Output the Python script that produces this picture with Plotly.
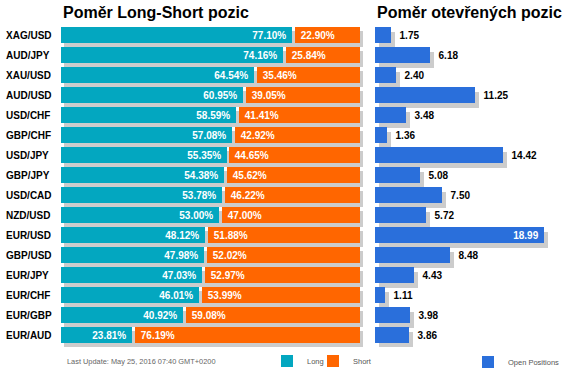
import plotly.graph_objects as go

pairs = ["XAG/USD", "AUD/JPY", "XAU/USD", "AUD/USD", "USD/CHF", "GBP/CHF", "USD/JPY", "GBP/JPY",
         "USD/CAD", "NZD/USD", "EUR/USD", "GBP/USD", "EUR/JPY", "EUR/CHF", "EUR/GBP", "EUR/AUD"]
long_pct = [77.10, 74.16, 64.54, 60.95, 58.59, 57.08, 55.35, 54.38, 53.78, 53.00, 48.12, 47.98, 47.03, 46.01, 40.92, 23.81]
short_pct = [22.90, 25.84, 35.46, 39.05, 41.41, 42.92, 44.65, 45.62, 46.22, 47.00, 51.88, 52.02, 52.97, 53.99, 59.08, 76.19]
open_pos = [1.75, 6.18, 2.40, 11.25, 3.48, 1.36, 14.42, 5.08, 7.50, 5.72, 18.99, 8.48, 4.43, 1.11, 3.98, 3.86]

title_left = "Poměr Long-Short pozic"
title_right = "Poměr otevřených pozic"
update_text = "Last Update: May 25, 2016 07:40 GMT+0200"

W, H = 565, 373
TEAL, ORANGE, BLUE, SHADOW = "#03A7C0", "#FF6600", "#2A6FDB", "#CCCCCC"
FONT = "Liberation Sans, Arial, sans-serif"

idx = list(range(len(pairs)))
BW = 0.77          # bar thickness in row units (20 px per row)
OFF = -BW / 2
GAP = 1.0          # gap between long and short (units of %)
L_SHX, L_SHY = 1.0, 0.2      # left shadow shift
R_SHX, R_SHY = 0.45, 0.25    # right shadow shift

fig = go.Figure()

# left shadows
fig.add_trace(go.Bar(
    y=idx, x=[l + s for l, s in zip(long_pct, short_pct)], base=L_SHX, orientation="h",
    width=BW, offset=OFF + L_SHY, marker=dict(color=SHADOW, line=dict(width=0)),
    showlegend=False, hoverinfo="skip", xaxis="x", yaxis="y"))
# long
fig.add_trace(go.Bar(
    y=idx, x=long_pct, base=0, orientation="h", name="Long",
    width=BW, offset=OFF, marker=dict(color=TEAL, line=dict(width=0)),
    texttemplate="%{x:.2f}%\u00a0", textposition="inside", insidetextanchor="end",
    constraintext="none", insidetextfont=dict(family=FONT, size=10, color="white", weight="bold"),
    legend="legend", xaxis="x", yaxis="y", hoverinfo="skip"))
# short
fig.add_trace(go.Bar(
    y=idx, x=[s - GAP for s in short_pct], base=[l + GAP for l in long_pct], orientation="h", name="Short",
    width=BW, offset=OFF, marker=dict(color=ORANGE, line=dict(width=0)),
    customdata=short_pct,
    texttemplate="\u00a0%{customdata:.2f}%", textposition="inside", insidetextanchor="start",
    constraintext="none", insidetextfont=dict(family=FONT, size=10, color="white", weight="bold"),
    legend="legend3", xaxis="x", yaxis="y", hoverinfo="skip"))

# right shadows
fig.add_trace(go.Bar(
    y=idx, x=open_pos, base=R_SHX, orientation="h",
    width=BW, offset=OFF + R_SHY, marker=dict(color=SHADOW, line=dict(width=0)),
    showlegend=False, hoverinfo="skip", xaxis="x2", yaxis="y"))
vmax = max(open_pos)
fig.add_trace(go.Bar(
    y=idx, x=open_pos, base=0, orientation="h", name="Open Positions",
    width=BW, offset=OFF, marker=dict(color=BLUE, line=dict(width=0)),
    texttemplate=["%{x:.2f}\u00a0" if v == vmax else "\u00a0\u00a0%{x:.2f}" for v in open_pos],
    textposition=["inside" if v == vmax else "outside" for v in open_pos],
    insidetextanchor="end", constraintext="none", cliponaxis=False,
    insidetextfont=dict(family=FONT, size=10, color="white", weight="bold"),
    outsidetextfont=dict(family=FONT, size=10, color="black", weight="bold"),
    legend="legend2", xaxis="x2", yaxis="y", hoverinfo="skip"))

annotations = []
for i, p in enumerate(pairs):
    annotations.append(dict(
        x=4 / W, xref="paper", xanchor="left", y=i, yref="y", yanchor="middle",
        text=p, showarrow=False, font=dict(family=FONT, size=10, color="black", weight="bold")))
annotations.append(dict(
    x=61 / W, xref="paper", xanchor="left", y=1 - 12.5 / H, yref="paper", yanchor="middle",
    text=title_left, showarrow=False, font=dict(family=FONT, size=16, color="black", weight="bold")))
annotations.append(dict(
    x=375 / W, xref="paper", xanchor="left", y=1 - 12.5 / H, yref="paper", yanchor="middle",
    text=title_right, showarrow=False, font=dict(family=FONT, size=16, color="black", weight="bold")))
annotations.append(dict(
    x=65 / W, xref="paper", xanchor="left", y=1 - 361 / H, yref="paper", yanchor="middle",
    text=update_text, showarrow=False, font=dict(family=FONT, size=7.4, color="#666666")))

hidden = dict(showgrid=False, zeroline=False, showticklabels=False, showline=False, ticks="", fixedrange=True)
leg_font = dict(family=FONT, size=7.5, color="#555555")
leg_common = dict(orientation="h", xanchor="left", yanchor="middle", font=leg_font,
                  bgcolor="rgba(0,0,0,0)", itemwidth=30)

fig.update_layout(
    width=W, height=H, margin=dict(l=0, r=0, t=0, b=0, autoexpand=False),
    paper_bgcolor="white", plot_bgcolor="rgba(0,0,0,0)",
    barmode="overlay", bargap=0,
    xaxis=dict(domain=[61 / W, (61 + 102 * 2.99) / W], range=[0, 102], anchor="y", **hidden),
    xaxis2=dict(domain=[375 / W, 560 / W], range=[0, 185 / 8.9], anchor="y", **hidden),
    yaxis=dict(domain=[1 - 347 / H, 1 - 25 / H], range=[15.6, -0.5], anchor="x", **hidden),
    legend=dict(x=267 / W, y=1 - 361 / H, **leg_common),
    legend3=dict(x=313 / W, y=1 - 361 / H, **leg_common),
    legend2=dict(x=468 / W, y=1 - 362 / H, **leg_common),
    annotations=annotations,
)

fig.write_html("out.html", config={"displayModeBar": False},
               post_script="document.body.style.margin='0';document.body.style.padding='0';")
